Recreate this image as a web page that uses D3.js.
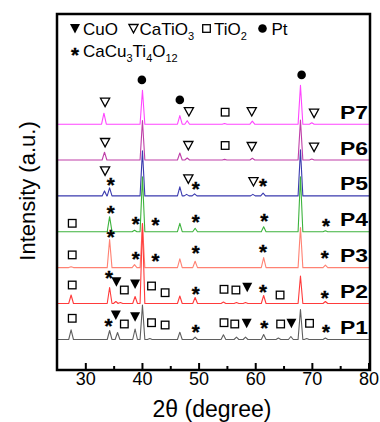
<!DOCTYPE html>
<html>
<head>
<meta charset="utf-8">
<script src="https://cdn.jsdelivr.net/npm/d3@7"></script>
<style>
  html, body { margin: 0; padding: 0; background: #fff; }
  svg { display: block; font-family: "Liberation Sans", Arial, sans-serif; }
</style>
</head>
<body>
<div id="chart"></div>
<script>
// 2-theta axis ticks
const majorTicks = [30, 40, 50, 60, 70, 80];
const minorTicks = [35, 45, 55, 65, 75];

// samples, bottom to top
const samples = ["P1", "P2", "P3", "P4", "P5", "P6", "P7"];
const sampleColors = ["#5f5f5f", "#ff3b3b", "#ff8273", "#3db33d", "#3a3aae", "#bf3fa8", "#ff45ff"];
// vertical offset of each trace (a.u.)
const offsets = [30.5, 66.5, 102.4, 138.3, 174.1, 210, 245.8];

// peaks per sample: [2theta, intensity above baseline]
const peaksP1 = [[27.4, 9.7], [34.2, 9], [35.6, 7], [38.7, 10.5], [40.0, 34.5], [41.3, 1], [46.6, 7.3], [49.3, 2.3],
  [54.3, 4.7], [56.6, 2.3], [58.2, 2.3], [61.4, 5], [64.0, 1.5], [66.2, 3], [67.9, 30], [69.0, 1], [72.3, 1.5]];
const peaksP2 = [[27.4, 8.5], [34.2, 16], [35.3, 2], [36.1, 1], [38.7, 7], [40.0, 80], [46.6, 7.5], [49.3, 6],
  [54.3, 1.5], [56.6, 1], [58.2, 1], [61.4, 8], [67.9, 27.5], [72.3, 2]];
const peaksP3 = [[27.4, 0.8], [34.2, 28], [38.6, 3], [40.0, 44], [46.6, 8.7], [49.3, 6.3], [61.4, 10], [67.9, 40], [72.3, 2.5]];
const peaksP4 = [[34.2, 15], [38.6, 1.5], [40.0, 55], [46.6, 8.4], [49.3, 3.4], [61.4, 5], [67.9, 55], [72.3, 1]];
const peaksP5 = [[33.3, 5], [34.2, 8], [40.0, 45], [46.6, 9], [47.8, 1.5], [49.2, 2], [59.5, 1.5], [61.3, 2.7], [67.9, 46]];
const peaksP6 = [[33.3, 7.8], [40.0, 39.5], [46.6, 7], [47.9, 2], [54.5, 0.6], [59.4, 1.7], [67.9, 40], [69.9, 1]];
const peaksP7 = [[33.2, 11], [40.0, 34], [46.6, 8.6], [47.9, 3.5], [54.5, 0.7], [59.4, 3], [67.9, 39], [69.9, 1.5]];
const peaks = [peaksP1, peaksP2, peaksP3, peaksP4, peaksP5, peaksP6, peaksP7];

// phase markers per sample: [phase, 2theta, height above baseline]
const marksP1 = [["TiO2", 27.6, 21.2], ["CCTO", 34.0, 18.8], ["CuO", 35.3, 24.5], ["TiO2", 36.8, 15.5], ["CuO", 38.7, 22.8],
  ["TiO2", 41.6, 16.8], ["TiO2", 44.0, 14.5], ["CCTO", 49.4, 12.8], ["TiO2", 54.4, 16.8], ["TiO2", 56.3, 15.5],
  ["CuO", 58.4, 16.2], ["CCTO", 61.5, 16.8], ["TiO2", 64.4, 15.5], ["CuO", 66.3, 16.2], ["TiO2", 69.5, 16.2], ["CCTO", 72.4, 12.2]];
const marksP2 = [["TiO2", 27.6, 18.5], ["CCTO", 34.1, 30.2], ["CuO", 35.4, 21.8], ["TiO2", 36.8, 13.5], ["CuO", 38.7, 19.5],
  ["TiO2", 41.6, 17.5], ["TiO2", 44.0, 10.8], ["CCTO", 49.4, 14.2], ["TiO2", 54.4, 14.2], ["TiO2", 56.5, 13.5],
  ["CuO", 58.5, 16.2], ["CCTO", 61.3, 16.8], ["TiO2", 64.3, 8.5], ["CCTO", 72.2, 10.8]];
const marksP3 = [["TiO2", 27.6, 12.7], ["CCTO", 34.4, 35.3], ["CCTO", 38.8, 13.7], ["CCTO", 42.3, 11.3], ["CCTO", 49.4, 19.3],
  ["CCTO", 61.3, 20.3], ["CCTO", 72.2, 14.7]];
const marksP4 = [["TiO2", 27.6, 8.4], ["CCTO", 34.4, 23.4], ["CCTO", 38.8, 12.4], ["CCTO", 42.3, 11.7], ["CCTO", 49.4, 14.4],
  ["CCTO", 61.5, 16], ["CCTO", 72.4, 11]];
const marksP5 = [["CaTiO3", 33.4, 25], ["CCTO", 34.4, 16], ["CaTiO3", 48.1, 17], ["CCTO", 49.4, 11.7], ["CaTiO3", 59.6, 14.3],
  ["CCTO", 61.3, 14.3]];
const marksP6 = [["CaTiO3", 33.4, 17.5], ["CaTiO3", 48.1, 14.5], ["TiO2", 54.6, 14.5], ["CaTiO3", 59.3, 13.5], ["CaTiO3", 70.3, 12.8]];
const marksP7 = [["CaTiO3", 33.4, 22], ["Pt", 39.9, 44.3], ["Pt", 46.6, 24.3], ["CaTiO3", 48.2, 12.6], ["TiO2", 54.6, 12],
  ["CaTiO3", 59.3, 12.6], ["Pt", 68.1, 49.3], ["CaTiO3", 70.3, 11]];
const marks = [marksP1, marksP2, marksP3, marksP4, marksP5, marksP6, marksP7];

// legend rows
const legendRow1 = [["CuO", "CuO", ""], ["CaTiO3", "CaTiO", "3"], ["TiO2", "TiO", "2"], ["Pt", "Pt", ""]];

function drawMarker(g, phase, cx, cy) {
  if (phase === "CuO") {
    g.append("path").attr("d", `M${cx - 5},${cy - 4.5}L${cx + 5},${cy - 4.5}L${cx},${cy + 5}Z`).attr("fill", "#000");
  } else if (phase === "CaTiO3") {
    g.append("path").attr("d", `M${cx - 4.6},${cy - 4}L${cx + 4.6},${cy - 4}L${cx},${cy + 4.4}Z`)
      .attr("fill", "#fff").attr("stroke", "#000").attr("stroke-width", 1.3);
  } else if (phase === "TiO2") {
    g.append("rect").attr("x", cx - 3.8).attr("y", cy - 3.8).attr("width", 7.6).attr("height", 7.6)
      .attr("fill", "#fff").attr("stroke", "#000").attr("stroke-width", 1.3);
  } else if (phase === "Pt") {
    g.append("circle").attr("cx", cx).attr("cy", cy).attr("r", 4.3).attr("fill", "#000");
  } else {
    // asterisk glyph, slightly thickened
    g.append("text").attr("x", cx).attr("y", cy + 11.8).attr("text-anchor", "middle")
      .attr("stroke", "#000").attr("stroke-width", 0.35)
      .style("font-size", "20.5px").style("font-weight", "bold").text("*");
  }
}

function drawChart() {
  const width = 380, height = 422;
  const svg = d3.select("#chart").append("svg").attr("width", width).attr("height", height);

  const x = d3.scaleLinear().domain([25, 80]).range([57.5, 369]);
  const y = d3.scaleLinear().domain([0, 356]).range([370, 14]);

  // traces, top sample drawn first
  const line = d3.line().x(d => x(d[0])).y(d => y(d[1]));
  const hw = 0.42;
  for (let i = samples.length - 1; i >= 0; i--) {
    const base = offsets[i];
    const pts = [[25, base]];
    peaks[i].forEach(p => {
      pts.push([p[0] - hw, base], [p[0], base + p[1]], [p[0] + hw, base]);
    });
    pts.push([80, base]);
    svg.append("path").datum(pts)
      .attr("fill", "none").attr("stroke", sampleColors[i]).attr("stroke-width", 1.1)
      .attr("stroke-linejoin", "round").attr("d", line);
  }

  // phase markers
  const mg = svg.append("g");
  marks.forEach((list, i) => {
    list.forEach(m => drawMarker(mg, m[0], x(m[1]), y(offsets[i] + m[2])));
  });

  // sample labels
  svg.selectAll(".slabel").data(samples).enter().append("text")
    .attr("class", "slabel")
    .attr("x", 340).attr("y", (d, i) => y(offsets[i]) - 5.5)
    .attr("textLength", 28).attr("lengthAdjust", "spacingAndGlyphs")
    .style("font-size", "18px").style("font-weight", "bold")
    .text(d => d);

  // frame
  svg.append("rect").attr("x", 57).attr("y", 14).attr("width", 313).attr("height", 356)
    .attr("fill", "none").attr("stroke", "#000").attr("stroke-width", 2.5);

  // ticks (inward)
  svg.selectAll(".major").data(majorTicks).enter().append("line")
    .attr("x1", d => x(d)).attr("x2", d => x(d)).attr("y1", 370).attr("y2", 363)
    .attr("stroke", "#000").attr("stroke-width", 2);
  svg.selectAll(".minor").data(minorTicks).enter().append("line")
    .attr("x1", d => x(d)).attr("x2", d => x(d)).attr("y1", 370).attr("y2", 366)
    .attr("stroke", "#000").attr("stroke-width", 2);
  svg.selectAll(".tlabel").data(majorTicks).enter().append("text")
    .attr("x", d => x(d)).attr("y", 384.5).attr("text-anchor", "middle")
    .style("font-size", "18px").text(d => d);

  // axis titles
  svg.append("text").attr("x", 212).attr("y", 417).attr("text-anchor", "middle")
    .style("font-size", "23px").text("2θ (degree)");
  svg.append("text").attr("transform", "translate(35,191) rotate(-90)").attr("text-anchor", "middle")
    .style("font-size", "22px").text("Intensity (a.u.)");

  // legend
  const lg = svg.append("g");
  const row1x = [75, 133.5, 206.5, 262.5];
  const txt1x = [83, 139.5, 214, 271.5];
  legendRow1.forEach((d, i) => {
    drawMarker(lg, d[0], row1x[i], 28.5);
    const t = lg.append("text").attr("x", txt1x[i]).attr("y", 34.5).style("font-size", "17px").text(d[1]);
    if (d[2]) t.append("tspan").attr("dy", 5).style("font-size", "11px").text(d[2]);
  });
  drawMarker(lg, "CCTO", 75, 50);
  const t2 = lg.append("text").attr("x", 83).attr("y", 57).style("font-size", "17px");
  [["CaCu", ""], ["3", "sub"], ["Ti", ""], ["4", "sub"], ["O", ""], ["12", "sub"]].forEach((p, j, arr) => {
    const prevSub = j > 0 && arr[j - 1][1] === "sub";
    t2.append("tspan").attr("dy", p[1] === "sub" ? 5 : (prevSub ? -5 : 0))
      .style("font-size", p[1] === "sub" ? "11px" : "17px").text(p[0]);
  });
}

drawChart();
</script>
</body>
</html>
